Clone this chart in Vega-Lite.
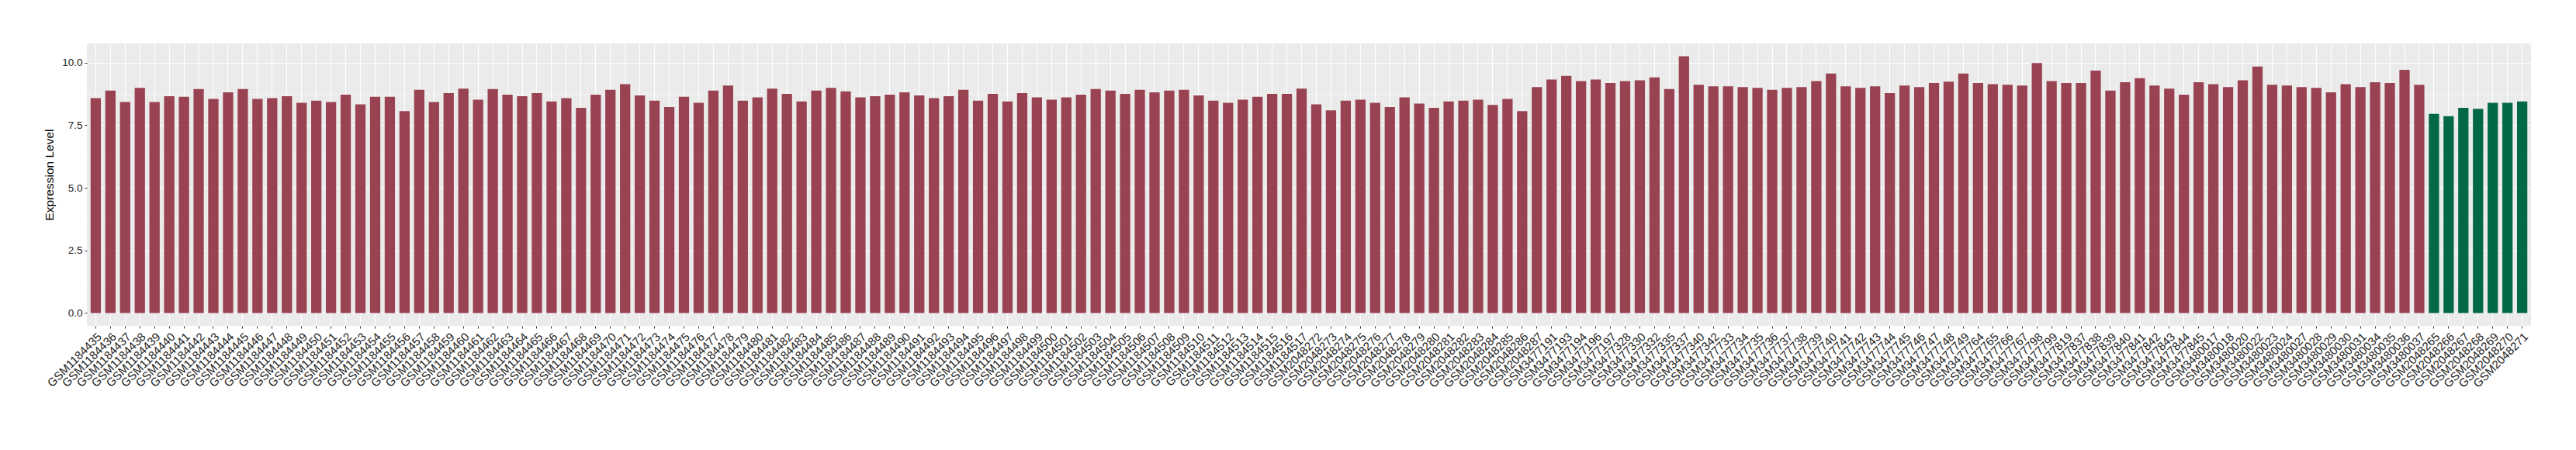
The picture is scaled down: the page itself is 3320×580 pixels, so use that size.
{
  "$schema": "https://vega.github.io/schema/vega-lite/v6.json",
  "width": 3150,
  "height": 364,
  "autosize": {"type": "none"},
  "padding": {"left": 112, "top": 56, "right": 58, "bottom": 160},
  "background": "white",
  "config": {
    "view": {"stroke": null, "fill": "#EBEBEB"},
    "font": "Liberation Sans"
  },
  "data": {"values": [
    {"sample":"GSM1184435","expr":8.58,"group":"case"},
    {"sample":"GSM1184436","expr":8.88,"group":"case"},
    {"sample":"GSM1184437","expr":8.42,"group":"case"},
    {"sample":"GSM1184438","expr":8.99,"group":"case"},
    {"sample":"GSM1184439","expr":8.42,"group":"case"},
    {"sample":"GSM1184440","expr":8.66,"group":"case"},
    {"sample":"GSM1184441","expr":8.63,"group":"case"},
    {"sample":"GSM1184442","expr":8.94,"group":"case"},
    {"sample":"GSM1184443","expr":8.55,"group":"case"},
    {"sample":"GSM1184444","expr":8.81,"group":"case"},
    {"sample":"GSM1184445","expr":8.94,"group":"case"},
    {"sample":"GSM1184446","expr":8.55,"group":"case"},
    {"sample":"GSM1184447","expr":8.58,"group":"case"},
    {"sample":"GSM1184448","expr":8.66,"group":"case"},
    {"sample":"GSM1184449","expr":8.39,"group":"case"},
    {"sample":"GSM1184450","expr":8.48,"group":"case"},
    {"sample":"GSM1184451","expr":8.42,"group":"case"},
    {"sample":"GSM1184452","expr":8.72,"group":"case"},
    {"sample":"GSM1184453","expr":8.33,"group":"case"},
    {"sample":"GSM1184454","expr":8.63,"group":"case"},
    {"sample":"GSM1184455","expr":8.63,"group":"case"},
    {"sample":"GSM1184456","expr":8.06,"group":"case"},
    {"sample":"GSM1184457","expr":8.91,"group":"case"},
    {"sample":"GSM1184458","expr":8.42,"group":"case"},
    {"sample":"GSM1184459","expr":8.78,"group":"case"},
    {"sample":"GSM1184460","expr":8.96,"group":"case"},
    {"sample":"GSM1184461","expr":8.52,"group":"case"},
    {"sample":"GSM1184462","expr":8.94,"group":"case"},
    {"sample":"GSM1184463","expr":8.72,"group":"case"},
    {"sample":"GSM1184464","expr":8.66,"group":"case"},
    {"sample":"GSM1184465","expr":8.78,"group":"case"},
    {"sample":"GSM1184466","expr":8.45,"group":"case"},
    {"sample":"GSM1184467","expr":8.58,"group":"case"},
    {"sample":"GSM1184468","expr":8.19,"group":"case"},
    {"sample":"GSM1184469","expr":8.72,"group":"case"},
    {"sample":"GSM1184470","expr":8.91,"group":"case"},
    {"sample":"GSM1184471","expr":9.14,"group":"case"},
    {"sample":"GSM1184472","expr":8.69,"group":"case"},
    {"sample":"GSM1184473","expr":8.48,"group":"case"},
    {"sample":"GSM1184474","expr":8.22,"group":"case"},
    {"sample":"GSM1184475","expr":8.63,"group":"case"},
    {"sample":"GSM1184476","expr":8.39,"group":"case"},
    {"sample":"GSM1184477","expr":8.88,"group":"case"},
    {"sample":"GSM1184478","expr":9.08,"group":"case"},
    {"sample":"GSM1184479","expr":8.48,"group":"case"},
    {"sample":"GSM1184480","expr":8.61,"group":"case"},
    {"sample":"GSM1184481","expr":8.96,"group":"case"},
    {"sample":"GSM1184482","expr":8.75,"group":"case"},
    {"sample":"GSM1184483","expr":8.45,"group":"case"},
    {"sample":"GSM1184484","expr":8.88,"group":"case"},
    {"sample":"GSM1184485","expr":8.99,"group":"case"},
    {"sample":"GSM1184486","expr":8.85,"group":"case"},
    {"sample":"GSM1184487","expr":8.61,"group":"case"},
    {"sample":"GSM1184488","expr":8.66,"group":"case"},
    {"sample":"GSM1184489","expr":8.72,"group":"case"},
    {"sample":"GSM1184490","expr":8.81,"group":"case"},
    {"sample":"GSM1184491","expr":8.69,"group":"case"},
    {"sample":"GSM1184492","expr":8.58,"group":"case"},
    {"sample":"GSM1184493","expr":8.66,"group":"case"},
    {"sample":"GSM1184494","expr":8.91,"group":"case"},
    {"sample":"GSM1184495","expr":8.48,"group":"case"},
    {"sample":"GSM1184496","expr":8.75,"group":"case"},
    {"sample":"GSM1184497","expr":8.45,"group":"case"},
    {"sample":"GSM1184498","expr":8.78,"group":"case"},
    {"sample":"GSM1184499","expr":8.61,"group":"case"},
    {"sample":"GSM1184500","expr":8.52,"group":"case"},
    {"sample":"GSM1184501","expr":8.61,"group":"case"},
    {"sample":"GSM1184502","expr":8.72,"group":"case"},
    {"sample":"GSM1184503","expr":8.94,"group":"case"},
    {"sample":"GSM1184504","expr":8.88,"group":"case"},
    {"sample":"GSM1184505","expr":8.75,"group":"case"},
    {"sample":"GSM1184506","expr":8.91,"group":"case"},
    {"sample":"GSM1184507","expr":8.81,"group":"case"},
    {"sample":"GSM1184508","expr":8.88,"group":"case"},
    {"sample":"GSM1184509","expr":8.91,"group":"case"},
    {"sample":"GSM1184510","expr":8.69,"group":"case"},
    {"sample":"GSM1184511","expr":8.48,"group":"case"},
    {"sample":"GSM1184512","expr":8.39,"group":"case"},
    {"sample":"GSM1184513","expr":8.52,"group":"case"},
    {"sample":"GSM1184514","expr":8.63,"group":"case"},
    {"sample":"GSM1184515","expr":8.75,"group":"case"},
    {"sample":"GSM1184516","expr":8.75,"group":"case"},
    {"sample":"GSM1184517","expr":8.96,"group":"case"},
    {"sample":"GSM2048272","expr":8.33,"group":"case"},
    {"sample":"GSM2048273","expr":8.09,"group":"case"},
    {"sample":"GSM2048274","expr":8.48,"group":"case"},
    {"sample":"GSM2048275","expr":8.52,"group":"case"},
    {"sample":"GSM2048276","expr":8.39,"group":"case"},
    {"sample":"GSM2048277","expr":8.22,"group":"case"},
    {"sample":"GSM2048278","expr":8.61,"group":"case"},
    {"sample":"GSM2048279","expr":8.36,"group":"case"},
    {"sample":"GSM2048280","expr":8.19,"group":"case"},
    {"sample":"GSM2048281","expr":8.45,"group":"case"},
    {"sample":"GSM2048282","expr":8.48,"group":"case"},
    {"sample":"GSM2048283","expr":8.52,"group":"case"},
    {"sample":"GSM2048284","expr":8.31,"group":"case"},
    {"sample":"GSM2048285","expr":8.55,"group":"case"},
    {"sample":"GSM2048286","expr":8.06,"group":"case"},
    {"sample":"GSM2048287","expr":9.02,"group":"case"},
    {"sample":"GSM3477191","expr":9.32,"group":"case"},
    {"sample":"GSM3477193","expr":9.47,"group":"case"},
    {"sample":"GSM3477194","expr":9.26,"group":"case"},
    {"sample":"GSM3477196","expr":9.32,"group":"case"},
    {"sample":"GSM3477197","expr":9.18,"group":"case"},
    {"sample":"GSM3477328","expr":9.26,"group":"case"},
    {"sample":"GSM3477330","expr":9.29,"group":"case"},
    {"sample":"GSM3477332","expr":9.41,"group":"case"},
    {"sample":"GSM3477335","expr":8.94,"group":"case"},
    {"sample":"GSM3477337","expr":10.25,"group":"case"},
    {"sample":"GSM3477340","expr":9.11,"group":"case"},
    {"sample":"GSM3477342","expr":9.05,"group":"case"},
    {"sample":"GSM3477733","expr":9.05,"group":"case"},
    {"sample":"GSM3477734","expr":9.02,"group":"case"},
    {"sample":"GSM3477735","expr":8.99,"group":"case"},
    {"sample":"GSM3477736","expr":8.91,"group":"case"},
    {"sample":"GSM3477737","expr":8.99,"group":"case"},
    {"sample":"GSM3477738","expr":9.02,"group":"case"},
    {"sample":"GSM3477739","expr":9.26,"group":"case"},
    {"sample":"GSM3477740","expr":9.56,"group":"case"},
    {"sample":"GSM3477741","expr":9.05,"group":"case"},
    {"sample":"GSM3477742","expr":8.99,"group":"case"},
    {"sample":"GSM3477743","expr":9.05,"group":"case"},
    {"sample":"GSM3477744","expr":8.78,"group":"case"},
    {"sample":"GSM3477745","expr":9.08,"group":"case"},
    {"sample":"GSM3477746","expr":9.02,"group":"case"},
    {"sample":"GSM3477747","expr":9.18,"group":"case"},
    {"sample":"GSM3477748","expr":9.24,"group":"case"},
    {"sample":"GSM3477749","expr":9.56,"group":"case"},
    {"sample":"GSM3477764","expr":9.18,"group":"case"},
    {"sample":"GSM3477765","expr":9.14,"group":"case"},
    {"sample":"GSM3477766","expr":9.11,"group":"case"},
    {"sample":"GSM3477767","expr":9.08,"group":"case"},
    {"sample":"GSM3477798","expr":9.98,"group":"case"},
    {"sample":"GSM3477799","expr":9.26,"group":"case"},
    {"sample":"GSM3477819","expr":9.18,"group":"case"},
    {"sample":"GSM3477837","expr":9.18,"group":"case"},
    {"sample":"GSM3477838","expr":9.68,"group":"case"},
    {"sample":"GSM3477839","expr":8.88,"group":"case"},
    {"sample":"GSM3477840","expr":9.21,"group":"case"},
    {"sample":"GSM3477841","expr":9.38,"group":"case"},
    {"sample":"GSM3477842","expr":9.08,"group":"case"},
    {"sample":"GSM3477843","expr":8.96,"group":"case"},
    {"sample":"GSM3477844","expr":8.72,"group":"case"},
    {"sample":"GSM3477845","expr":9.21,"group":"case"},
    {"sample":"GSM3480017","expr":9.14,"group":"case"},
    {"sample":"GSM3480018","expr":9.02,"group":"case"},
    {"sample":"GSM3480020","expr":9.29,"group":"case"},
    {"sample":"GSM3480022","expr":9.84,"group":"case"},
    {"sample":"GSM3480023","expr":9.11,"group":"case"},
    {"sample":"GSM3480024","expr":9.08,"group":"case"},
    {"sample":"GSM3480027","expr":9.02,"group":"case"},
    {"sample":"GSM3480028","expr":8.99,"group":"case"},
    {"sample":"GSM3480029","expr":8.81,"group":"case"},
    {"sample":"GSM3480030","expr":9.14,"group":"case"},
    {"sample":"GSM3480031","expr":9.02,"group":"case"},
    {"sample":"GSM3480034","expr":9.21,"group":"case"},
    {"sample":"GSM3480035","expr":9.18,"group":"case"},
    {"sample":"GSM3480036","expr":9.71,"group":"case"},
    {"sample":"GSM3480037","expr":9.11,"group":"case"},
    {"sample":"GSM2048265","expr":7.95,"group":"control"},
    {"sample":"GSM2048266","expr":7.86,"group":"control"},
    {"sample":"GSM2048267","expr":8.19,"group":"control"},
    {"sample":"GSM2048268","expr":8.15,"group":"control"},
    {"sample":"GSM2048269","expr":8.39,"group":"control"},
    {"sample":"GSM2048270","expr":8.39,"group":"control"},
    {"sample":"GSM2048271","expr":8.45,"group":"control"}
  ]},
  "mark": {"type": "bar"},
  "encoding": {
    "x": {
      "field": "sample",
      "type": "nominal",
      "sort": null,
      "scale": {"paddingInner": 0.3, "paddingOuter": 0.25},
      "axis": {
        "title": null,
        "labelAngle": -45,
        "labelAlign": "right",
        "labelBaseline": "top",
        "labelFontSize": 15,
        "labelColor": "#222222",
        "labelPadding": 3,
        "labelOverlap": false,
        "bandPosition": 0.5,
        "domain": false,
        "ticks": true,
        "tickSize": 3,
        "tickColor": "#333333",
        "grid": true,
        "gridColor": "white",
        "gridWidth": 1.1
      }
    },
    "y": {
      "field": "expr",
      "type": "quantitative",
      "scale": {"domain": [-0.5125, 10.7625], "nice": false, "zero": false},
      "axis": {
        "title": "Expression Level",
        "titleFontSize": 15.5,
        "titleFontWeight": "normal",
        "titleColor": "black",
        "titlePadding": 8,
        "titleY": 169,
        "values": [0, 1.25, 2.5, 3.75, 5, 6.25, 7.5, 8.75, 10],
        "labelExpr": "datum.value % 2.5 === 0 ? format(datum.value, '.1f') : ''",
        "labelFontSize": 13.5,
        "labelColor": "#222222",
        "labelPadding": 3,
        "domain": false,
        "tickSize": 3,
        "tickColor": "#333333",
        "tickOpacity": {"condition": {"test": "datum.value % 2.5 === 0", "value": 1}, "value": 0},
        "grid": true,
        "gridColor": "white",
        "gridWidth": {"condition": {"test": "datum.value % 2.5 === 0", "value": 1.1}, "value": 0.55}
      }
    },
    "y2": {"datum": 0},
    "color": {
      "field": "group",
      "type": "nominal",
      "scale": {"domain": ["case", "control"], "range": ["#994251", "#036847"]},
      "legend": null
    }
  }
}
